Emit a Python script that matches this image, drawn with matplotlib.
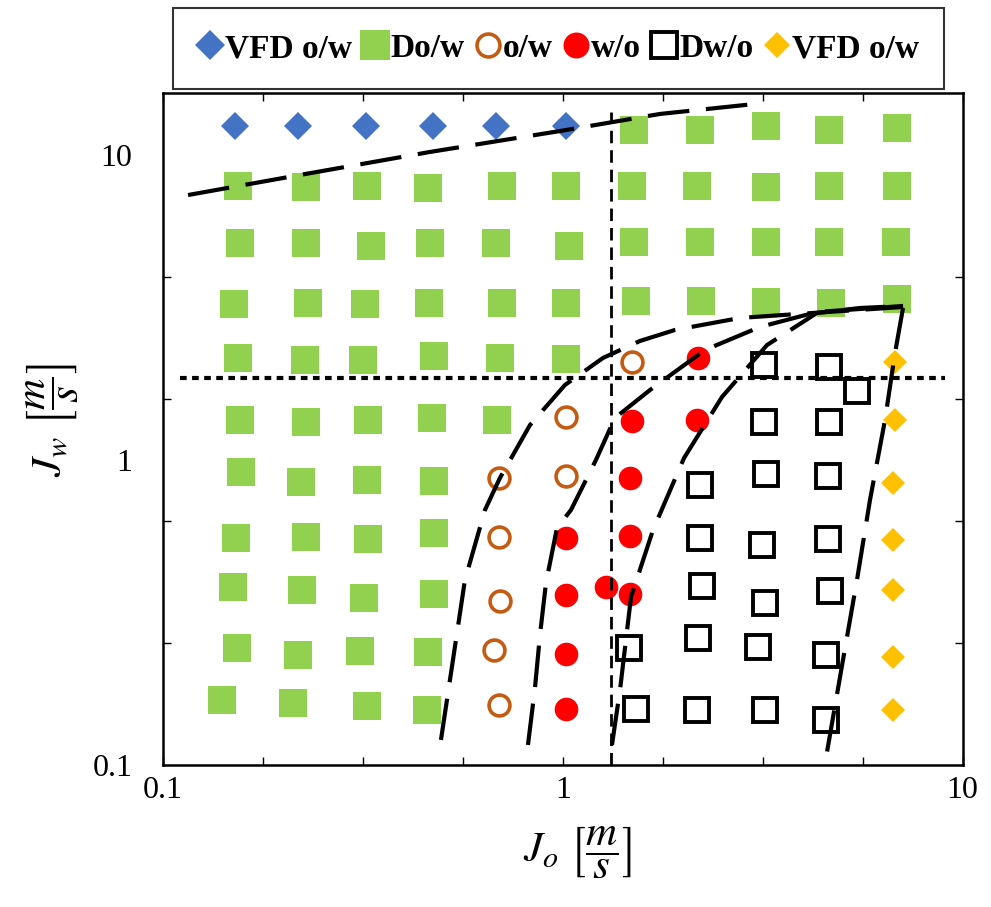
import numpy as np
import matplotlib
matplotlib.use("Agg")
import matplotlib.pyplot as plt

plt.rcParams['font.family'] = ['Liberation Serif', 'DejaVu Serif']
plt.rcParams['mathtext.fontset'] = 'stix'

vfd_left_x = [0.152, 0.218, 0.322, 0.473, 0.681, 1.02]
vfd_left_y = [12.4, 12.4, 12.4, 12.4, 12.4, 12.4]

dow_x = [1.508, 2.205, 3.224, 4.633, 6.853,
         0.1543, 0.2282, 0.3242, 0.4604, 0.705, 1.019, 1.49, 2.167, 3.224, 4.633, 6.853,
         0.1561, 0.2282, 0.3317, 0.4658, 0.6811, 1.037, 1.508, 2.205, 3.224, 4.633, 6.813,
         0.1508, 0.2308, 0.3205, 0.4631, 0.705, 1.019, 1.525, 2.218, 3.224, 4.687, 6.853,
         0.1543, 0.2269, 0.3168, 0.4767, 0.6968, 1.019,
         0.1561, 0.2282, 0.3261, 0.4712, 0.6848,
         0.157, 0.2217, 0.3242, 0.4767,
         0.1525, 0.2282, 0.3261, 0.4767,
         0.1499, 0.2229, 0.3186, 0.4767,
         0.1534, 0.2179, 0.3113, 0.4604,
         0.1406, 0.2117, 0.3242, 0.4577]
dow_y = [12.08, 12.08, 12.45, 12.08, 12.26,
         7.91, 7.85, 7.91, 7.79, 7.91, 7.91, 7.91, 7.91, 7.85, 7.91, 7.91,
         5.13, 5.13, 5.04, 5.13, 5.13, 5.04, 5.17, 5.17, 5.17, 5.17, 5.17,
         3.25, 3.28, 3.25, 3.28, 3.28, 3.28, 3.33, 3.33, 3.30, 3.28, 3.37,
         2.16, 2.127, 2.127, 2.19, 2.16, 2.145,
         1.353, 1.333, 1.353, 1.374, 1.353,
         0.9135, 0.847, 0.86, 0.853,
         0.555, 0.5595, 0.551, 0.577,
         0.3837, 0.375, 0.3529, 0.3634,
         0.2418, 0.2294, 0.2365, 0.2347,
         0.1633, 0.1597, 0.156, 0.152]

ow_x = [1.49, 1.019, 0.6925, 1.019, 0.6925, 0.6968, 0.673, 0.6925]
ow_y = [2.096, 1.384, 0.873, 0.886, 0.5595, 0.3448, 0.2382, 0.1573]

wo_x = [2.179, 1.49, 2.167, 1.473, 1.019, 1.473, 1.019, 1.282, 1.473, 1.019, 1.019]
wo_y = [2.16, 1.343, 1.353, 0.873, 0.555, 0.5637, 0.3617, 0.3837, 0.3644, 0.2311, 0.1528]

dwo_x = [3.186, 4.633, 5.443, 3.186, 4.633,
         2.205, 3.224, 4.606, 2.205, 3.15, 4.606,
         2.23, 3.205, 4.66, 1.465, 2.179, 3.078, 4.553,
         1.525, 2.167, 3.205, 4.553]
dwo_y = [2.049, 2.019, 1.684, 1.333, 1.333,
         0.828, 0.9, 0.886, 0.555, 0.5263, 0.551,
         0.3863, 0.3398, 0.3721, 0.2418, 0.2609, 0.2435, 0.2294,
         0.1528, 0.1516, 0.1516, 0.1405]

vfd_right_x = [6.775, 6.775, 6.697, 6.697, 6.697, 6.697, 6.697]
vfd_right_y = [2.096, 1.353, 0.8406, 0.5466, 0.375, 0.2261, 0.152]

# Fronteras de transicion
vfd_line_x = [0.1157, 0.2204, 0.4658, 1.019, 1.751, 3.026]
vfd_line_y = [7.39, 8.60, 10.23, 12.07, 13.63, 14.70]

curve1_x = [0.4962, 0.5317, 0.5697, 0.6393, 0.6968, 0.8285, 1.0134, 1.261, 1.561, 1.909, 2.776, 4.225, 7.094]
curve1_y = [0.1208, 0.221, 0.4043, 0.6857, 0.873, 1.302, 1.762, 2.16, 2.456, 2.669, 2.922, 3.034, 3.174]

curve2_x = [0.8188, 0.8525, 0.8775, 0.9083, 0.9676, 1.049, 1.211, 1.351, 1.653, 2.269, 3.114, 4.323, 7.094]
curve2_y = [0.1163, 0.1789, 0.2668, 0.3952, 0.5984, 0.6857, 1.0, 1.373, 1.696, 2.295, 2.73, 3.056, 3.198]

curve3_x = [1.328, 1.391, 1.482, 1.682, 2.011, 2.502, 3.243, 4.323, 5.538, 7.094]
curve3_y = [0.1163, 0.1762, 0.3555, 0.5896, 1.015, 1.609, 2.382, 3.034, 3.15, 3.198]

curve4_x = [7.094, 6.775, 6.395, 5.866, 5.443, 5.021, 4.58]
curve4_y = [3.15, 2.243, 1.352, 0.7395, 0.4043, 0.221, 0.1103]

jo_split = 1.32
jw_split = 1.86

fig = plt.figure(figsize=(9.91, 9.07), dpi=100)
ax = fig.add_axes([0.1642, 0.1566, 0.8072, 0.7409])
ax.set_xscale('log')
ax.set_yscale('log')

h1, = ax.plot(vfd_left_x, vfd_left_y, 'D', color='#4472C4', ms=14, mew=0, label='VFD o/w', zorder=3)
h2, = ax.plot(dow_x, dow_y, 's', color='#92D050', ms=20, mew=0, label='Do/w', zorder=3)
h3, = ax.plot(ow_x, ow_y, 'o', mfc='white', mec='#C55A11', ms=15, mew=2.6, label='o/w', zorder=3)
h4, = ax.plot(wo_x, wo_y, 'o', color='#FF0000', ms=17, mew=0, label='w/o', zorder=3)
h5, = ax.plot(dwo_x, dwo_y, 's', mfc='white', mec='black', ms=17, mew=2.8, label='Dw/o', zorder=3)
h6, = ax.plot(vfd_right_x, vfd_right_y, 'D', color='#FFC000', ms=12, mew=0, label='VFD o/w', zorder=3)

for cx, cy in [(vfd_line_x, vfd_line_y), (curve1_x, curve1_y), (curve2_x, curve2_y),
               (curve3_x, curve3_y), (curve4_x, curve4_y)]:
    ax.plot(cx, cy, color='black', lw=3, dashes=(10, 4), zorder=4)

ax.plot([jo_split, jo_split], [0.1, 13.8], color='black', lw=2, dashes=(4.5, 2.5), zorder=4)
ax.plot([0.1105, 9.04], [jw_split, jw_split], color='black', lw=3, dashes=(1.6, 1.3), zorder=4)

ax.set_xlim(0.1, 10)
ax.set_ylim(0.1, 15.97)

# ticks
ax.set_xticks(10 ** np.arange(-1, 1.01, 0.25))
ax.set_xticklabels(['0.1', '', '', '', '1', '', '', '', '10'])
ax.xaxis.set_minor_locator(matplotlib.ticker.NullLocator())
ax.set_yticks([0.1, 1, 10])
ax.set_yticklabels(['0.1', '1', '10'])
ax.set_yticks(10 ** np.arange(1.0, -1.01, -0.4), minor=True)
ax.yaxis.set_minor_formatter(matplotlib.ticker.NullFormatter())
ax.tick_params(axis='x', which='major', direction='in', length=6, width=1,
               top=True, labelsize=23, pad=8)
ax.tick_params(axis='y', which='major', length=0, labelsize=23, pad=22)
ax.tick_params(axis='y', which='minor', direction='in', length=6, width=1, right=True)
for s in ax.spines.values():
    s.set_linewidth(1.8)

fig.text(578 / 991, 1 - 852 / 907, r'$J_o\ \left[\dfrac{m}{s}\right]$', fontsize=31,
         ha='center', va='center')
fig.text(52 / 991, 1 - 420 / 907, r'$J_w\ \left[\dfrac{m}{s}\right]$', fontsize=31,
         ha='center', va='center', rotation=90)

leg = fig.legend([h1, h2, h3, h4, h5, h6], ['VFD o/w', 'Do/w', 'o/w', 'w/o', 'Dw/o', 'VFD o/w'],
                 loc='upper center', bbox_to_anchor=(0.5635, 0.991), ncol=6,
                 prop={'weight': 'bold', 'size': 24}, frameon=True, fancybox=False,
                 edgecolor='black', handlelength=0.7, handletextpad=0.1, markerscale=1.1,
                 columnspacing=0.35, borderpad=0.75, borderaxespad=0)
leg.get_frame().set_linewidth(1.5)

fig.savefig('out.png', dpi=100)
